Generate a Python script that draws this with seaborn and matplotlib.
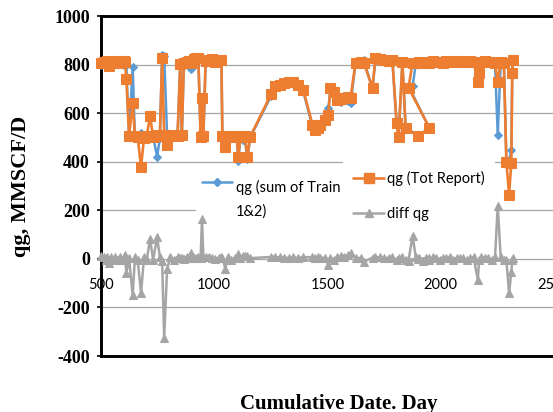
import matplotlib
matplotlib.use("Agg")
import matplotlib.pyplot as plt
import seaborn as sns
from matplotlib.lines import Line2D
from matplotlib.legend_handler import HandlerLine2D
from matplotlib.font_manager import FontProperties

# Cumulative day of each record (in recording order, not sorted)
days = [500, 512, 520, 528, 536, 544, 552, 560, 568, 576, 584, 592, 600, 606,
        612, 624, 640, 650, 662, 677, 690, 702, 717, 730, 748, 760, 770, 779,
        792, 806, 823, 838, 850, 857, 866, 878, 890, 898, 910, 920, 930, 940,
        946, 952, 962, 975, 990, 1005, 1020, 1032, 1036, 1049, 1060, 1075,
        1090, 1100, 1106, 1116, 1126, 1136, 1146, 1159, 1252, 1270, 1290, 1310,
        1330, 1350, 1372, 1393, 1434, 1447, 1460, 1469, 1491, 1504, 1513, 1527,
        1544, 1560, 1571, 1590, 1602, 1624, 1646, 1660, 1699, 1712, 1730, 1750,
        1770, 1787, 1805, 1814, 1831, 1845, 1900, 1950, 1858, 1876, 1890, 1905,
        1920, 1935, 1950, 1965, 1980, 1995, 2010, 2025, 2040, 2055, 2070, 2085,
        2100, 2115, 2130, 2145, 2164, 2170, 2180, 2195, 2210, 2225, 2240, 2252,
        2265, 2279, 2290, 2302, 2312, 2316, 2319]

# Gas rate, sum of Train 1 & 2 (MMSCF/D)
qg_train = [798, 806, 812, 808, 810, 806, 815, 808, 818, 812, 805, 816, 812, 795,
            800, 505, 792, 498, 506, 520, 492, 510, 508, 504, 421, 498, 838, 836,
            510, 505, 514, 500, 800, 505, 810, 805, 812, 782, 818, 824, 820, 500,
            500, 498, 808, 812, 818, 814, 815, 812, 500, 500, 498, 506,
            500, 495, 402, 500, 488, 492, 410, 500, 672, 706, 712, 720,
            726, 722, 714, 690, 545, 530, 532, 548, 568, 620, 700, 692,
            650, 648, 655, 650, 640, 805, 808, 820, 700, 822, 815, 818,
            810, 812, 566, 500, 806, 545, 505, 538, 712, 712, 802, 808,
            815, 805, 812, 808, 806, 816, 804, 810, 806, 818, 805, 812,
            808, 815, 810, 806, 815, 770, 806, 810, 808, 814, 800, 511,
            806, 812, 405, 404, 450, 770, 815]

# Gas rate, total report (MMSCF/D)
qg_report = [808, 812, 806, 814, 795, 812, 810, 816, 812, 808, 814, 810, 815, 812,
             742, 507, 643, 505, 500, 380, 498, 505, 590, 500, 510, 505, 828, 512,
             468, 512, 510, 508, 804, 510, 808, 812, 815, 808, 822, 828, 826, 503,
             664, 505, 815, 820, 823, 812, 820, 818, 505, 460, 505, 502,
             505, 500, 421, 505, 500, 505, 421, 503, 680, 713, 718, 725,
             730, 728, 717, 697, 552, 532, 540, 552, 573, 594, 705, 689,
             656, 660, 664, 665, 664, 808, 812, 808, 705, 829, 822, 820,
             815, 818, 561, 503, 812, 540, 505, 540, 705, 808, 808, 812,
             808, 810, 806, 814, 810, 812, 808, 815, 812, 814, 810, 816,
             812, 810, 814, 812, 730, 767, 812, 815, 812, 810, 806, 730,
             812, 808, 400, 264, 396, 767, 820]

# Difference between the two rates (MMSCF/D)
diff_qg = [10, 6, -6, 6, -15, 6, -5, 8, -6, -4, 9, -6, 3, 17,
           -58, 2, -149, 7, -6, -140, 6, -5, 82, -4, 89, 7, -10, -324,
           -42, 7, -4, 8, 4, 5, -2, 7, 3, 26, 4, 4, 6, 3,
           164, 7, 7, 8, 5, -2, 5, 6, 5, -40, 7, -4,
           5, 5, 19, 5, 12, 13, 11, 3, 8, 7, 6, 5,
           4, 6, 3, 7, 7, 2, 8, 4, 5, -26, 5, -3,
           6, 12, 9, 15, 24, 3, 4, -12, 5, 7, 7, 2,
           5, 6, -5, 3, 6, -5, 0, 2, -7, 96, 6, 4,
           -7, 5, -6, 6, 4, -4, 4, 5, 6, -4, 5, 4,
           4, -5, 4, 6, -85, -3, 6, 5, 4, -4, 6, 219,
           6, -4, -5, -140, -54, -3, 5]

x_ticks = [500, 1000, 1500, 2000, 2500]
y_ticks = [-400, -200, 0, 200, 400, 600, 800, 1000]

series_names = ["qg (sum of Train\n1&2)", "qg (Tot Report)", "diff qg"]
BLUE, ORANGE, GREY = "#5B9BD5", "#ED7D31", "#A5A5A5"

sns.set_theme(style="white")
plt.rcParams["axes.unicode_minus"] = False

serif_bold = dict(family="Liberation Serif", weight="bold")
legend_font = FontProperties(family="Lato", size=10.5)

fig = plt.figure(figsize=(5.53, 4.12), dpi=100)
ax = fig.add_axes([0.1826, 0.1359, 0.860, 0.8252])

common = dict(sort=False, estimator=None, ax=ax, clip_on=False)
sns.lineplot(x=days, y=qg_train, color=BLUE, marker="D", markersize=4.5,
             markeredgecolor=BLUE, linewidth=1.8, zorder=3, **common)
sns.lineplot(x=days, y=qg_report, color=ORANGE, marker="s", markersize=6.5,
             markeredgecolor=ORANGE, linewidth=1.9, zorder=4, **common)
sns.lineplot(x=days, y=diff_qg, color=GREY, marker="^", markersize=5.5,
             markeredgecolor=GREY, linewidth=1.8, zorder=6, **common)

ax.set_xlim(500, 2600)
ax.set_ylim(-400, 1000)
ax.set_yticks(y_ticks)
ax.set_yticklabels([str(v) for v in y_ticks], fontdict=dict(size=13, **serif_bold))
ax.tick_params(axis="y", left=True, length=3, width=1.2, color="black", pad=5,
               labelcolor="black")
ax.tick_params(axis="x", bottom=False, labelbottom=False)
ax.yaxis.grid(True, color="#A6A6A6", linewidth=0.9)
ax.xaxis.grid(False)
ax.set_axisbelow(True)
for sp in ax.spines.values():
    sp.set_color("black")
    sp.set_linewidth(2.1)

# Day labels sit along the zero line
sec = ax.secondary_xaxis(400 / 1400)
sec.set_xticks(x_ticks)
sec.set_xticklabels([str(v) for v in x_ticks])
for lbl in sec.get_xticklabels():
    lbl.set_fontproperties(legend_font)
    lbl.set_color("black")
sec.tick_params(axis="x", length=0, pad=14)
for sp in sec.spines.values():
    sp.set_visible(False)

ax.set_ylabel("qg, MMSCF/D", fontsize=16, labelpad=17, color="black", **serif_bold)
ax.set_xlabel("Cumulative Date. Day", fontsize=15, labelpad=27, color="black",
              **serif_bold)


class RaisedLineHandler(HandlerLine2D):
    """Legend line drawn level with the first line of a two-line label."""

    def __init__(self, lift, **kw):
        super().__init__(**kw)
        self.lift = lift

    def create_artists(self, legend, orig_handle, xdescent, ydescent, width,
                       height, fontsize, trans):
        return super().create_artists(legend, orig_handle, xdescent,
                                      ydescent - 2 * self.lift, width, height,
                                      fontsize, trans)


h_train = Line2D([], [], color=BLUE, marker="D", markersize=4.5, lw=1.8)
h_report = Line2D([], [], color=ORANGE, marker="s", markersize=6.5, lw=1.9)
h_diff = Line2D([], [], color=GREY, marker="^", markersize=5.5, lw=1.8)

leg_style = dict(loc="upper left", bbox_transform=fig.transFigure, frameon=True,
                 fancybox=False, framealpha=1, facecolor="white", edgecolor="none",
                 borderaxespad=0, handletextpad=0.22, prop=legend_font)

leg_a = ax.legend(handles=[h_train], labels=[series_names[0]],
                  bbox_to_anchor=(196 / 553, 1 - 174 / 412), borderpad=0.4,
                  handlelength=2.1,
                  handler_map={h_train: RaisedLineHandler(lift=12.7)}, **leg_style)
for t in leg_a.get_texts():
    t.set_linespacing(1.8)
    t.set_color("black")
leg_a.set_zorder(5)
ax.add_artist(leg_a)

leg_b = ax.legend(handles=[h_report, h_diff], labels=series_names[1:],
                  bbox_to_anchor=(343 / 553, 1 - 161 / 412), borderpad=0.7,
                  handlelength=2.1, labelspacing=1.41, **leg_style)
for t in leg_b.get_texts():
    t.set_color("black")
leg_b.set_zorder(5)

fig.savefig("out.png", dpi=100)
